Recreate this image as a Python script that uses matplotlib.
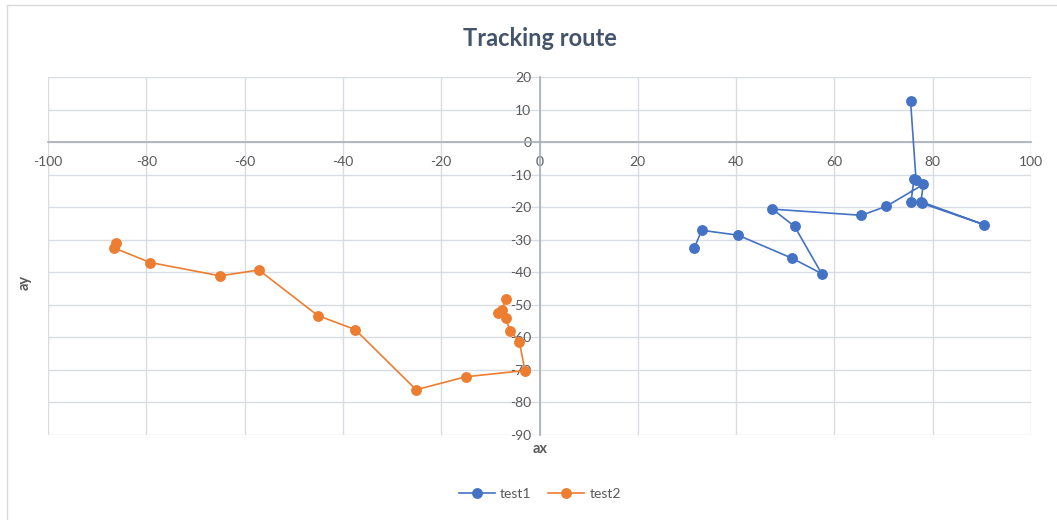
import matplotlib
matplotlib.use("Agg")
import matplotlib.pyplot as plt
from matplotlib.lines import Line2D

# Route samples
test1_x = [31.5, 33.0, 40.4, 51.4, 57.4, 51.9, 47.4, 65.5, 70.6, 78.1, 77.6, 90.5, 77.8, 75.6, 76.2, 76.6, 75.5]
test1_y = [-32.5, -27.1, -28.6, -35.7, -40.4, -25.9, -20.6, -22.5, -19.7, -13.0, -18.3, -25.4, -18.8, -18.3, -11.2, -11.5, 12.5]

test2_x = [-86.1, -86.6, -79.2, -65.0, -57.1, -45.1, -37.5, -25.1, -15.0, -2.95, -4.1, -6.0, -6.9, -8.5, -7.6, -6.9]
test2_y = [-30.95, -32.5, -37.0, -41.1, -39.3, -53.3, -57.6, -76.1, -72.1, -70.2, -61.4, -57.9, -54.0, -52.5, -51.7, -48.1]

x_ticks = [-100, -80, -60, -40, -20, 0, 20, 40, 60, 80, 100]
y_ticks = [-90, -80, -70, -60, -50, -40, -30, -20, -10, 0, 10, 20]

BLUE = "#4472C4"
ORANGE = "#ED7D31"
TEXT = "#595959"
GRID = "#D9DCE3"

plt.rcParams["font.family"] = ["Lato", "DejaVu Sans"]
plt.rcParams["axes.unicode_minus"] = False

fig = plt.figure(figsize=(10.57, 5.2), dpi=100)
ax = fig.add_axes([48 / 1057, 1 - 435 / 520, (1031 - 48) / 1057, (435 - 77) / 520])

# chart-area edge (top and left only)
edge_x = [7 / 1057, 7 / 1057, 1.0]
edge_y = [0.0, 1 - 5 / 520, 1 - 5 / 520]
fig.lines.append(Line2D(edge_x, edge_y, transform=fig.transFigure,
                        color="#D9D9D9", linewidth=1.0))

ax.plot(test1_x, test1_y, color=BLUE, linewidth=1.2, marker="o",
        markersize=6.8, label="test1", zorder=3)
ax.plot(test2_x, test2_y, color=ORANGE, linewidth=1.2, marker="o",
        markersize=6.8, label="test2", zorder=3)

ax.set_xlim(-100, 100)
ax.set_ylim(-90, 20)
ax.set_xticks(x_ticks)
ax.set_yticks(y_ticks)
ax.grid(True, color=GRID, linewidth=1.0, zorder=0)
ax.set_axisbelow(True)

for side in ("top", "right"):
    ax.spines[side].set_visible(False)
ax.spines["left"].set_position(("data", 0))
ax.spines["bottom"].set_position(("data", 0))
for side in ("left", "bottom"):
    ax.spines[side].set_color("#A9AFB8")
    ax.spines[side].set_linewidth(1.2)

ax.tick_params(axis="both", length=0, labelsize=10, labelcolor=TEXT)
ax.tick_params(axis="x", pad=10)
ax.tick_params(axis="y", pad=6)

fig.text(540 / 1057, 1 - 38 / 520, "Tracking route", ha="center", va="center",
         fontsize=17, fontweight="bold", color="#44546A")
fig.text(540 / 1057, 1 - 449 / 520, "ax", ha="center", va="center",
         fontsize=10.5, fontweight="bold", color=TEXT)
fig.text(25 / 1057, 1 - 282 / 520, "ay", ha="center", va="center",
         fontsize=10.5, fontweight="bold", color=TEXT, rotation=90)

fig.legend(loc="center", bbox_to_anchor=(540 / 1057, 1 - 494 / 520), ncol=2,
           frameon=False, fontsize=10, labelcolor=TEXT, handlelength=2.6,
           columnspacing=1.2, handletextpad=0.4)

fig.savefig("out.png", dpi=100)
